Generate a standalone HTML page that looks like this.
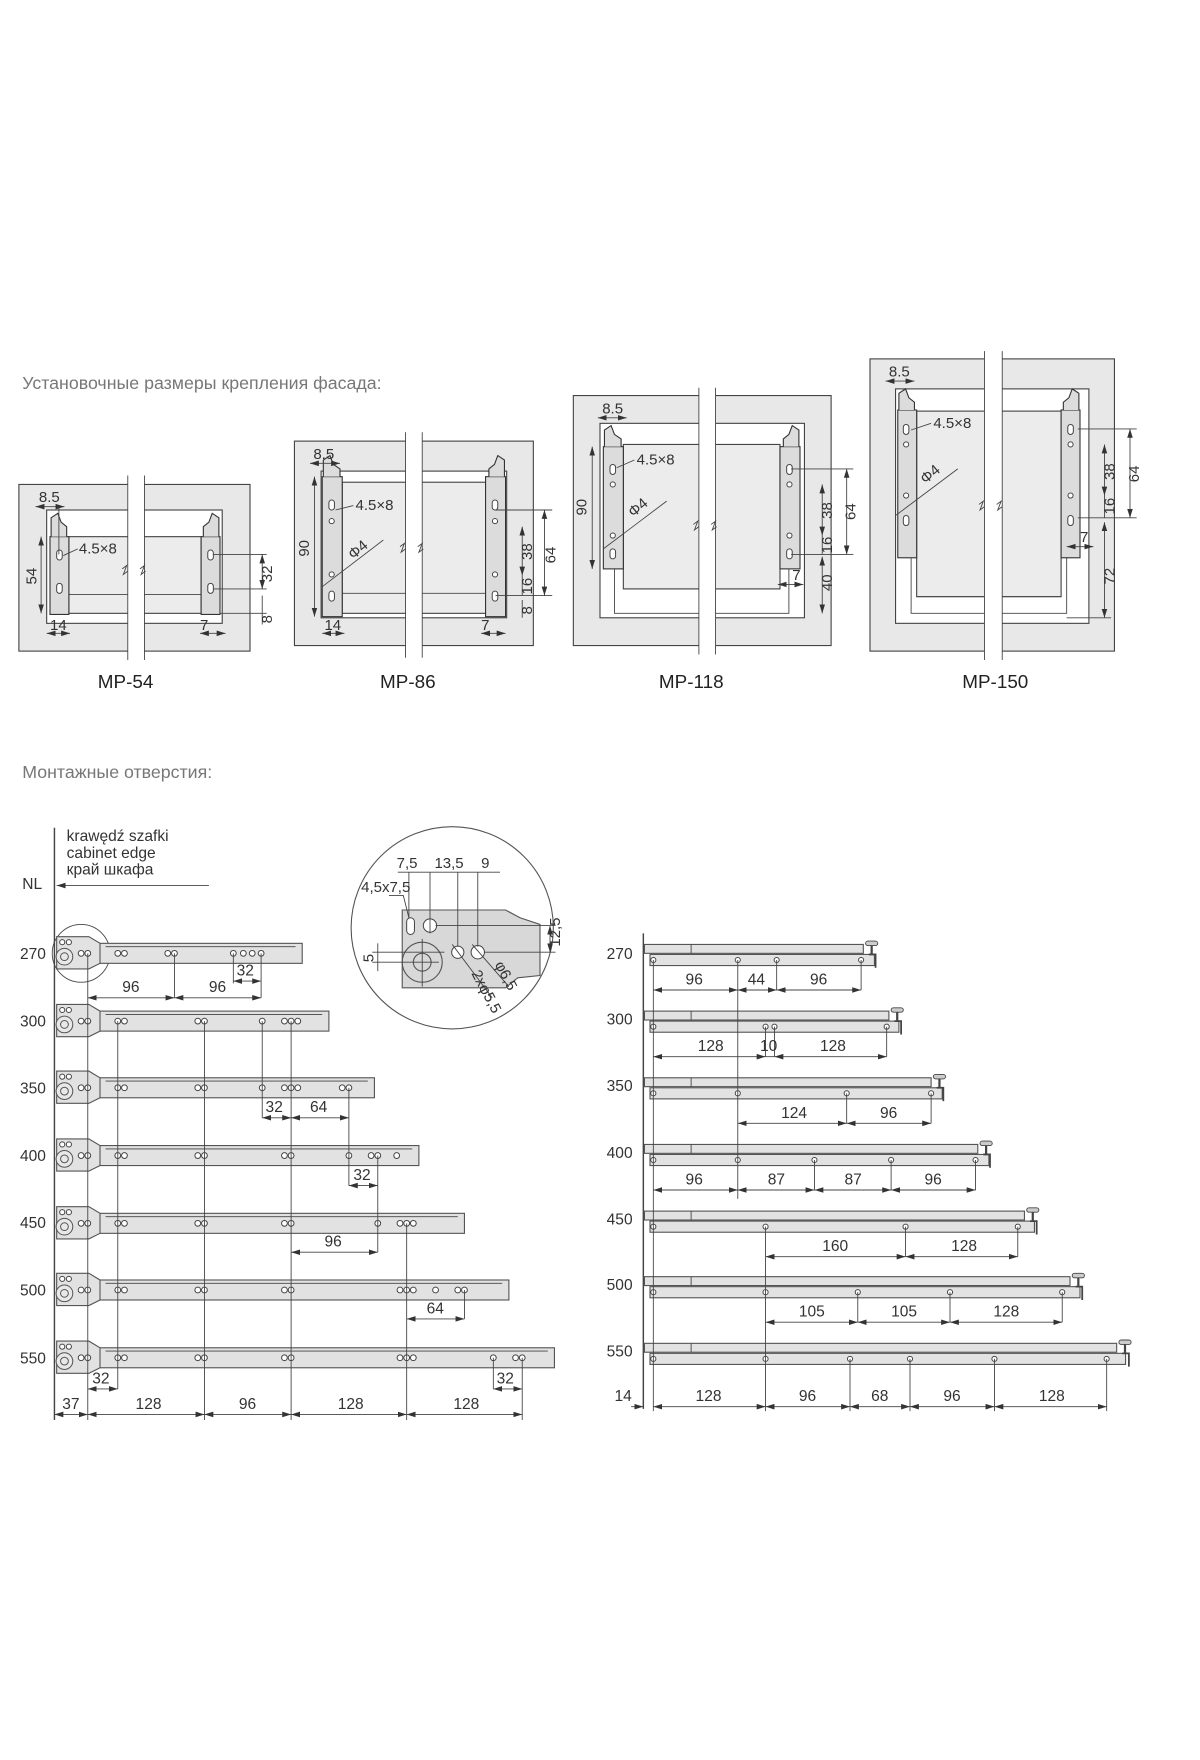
<!DOCTYPE html>
<html><head><meta charset="utf-8"><style>
html,body{margin:0;padding:0;background:#fff}
svg{display:block}
text{font-family:"Liberation Sans","DejaVu Sans",sans-serif;fill:#333}
.t{font-size:16px;fill:#777}
.d{font-size:13.5px}
.m{font-size:17px;fill:#222}
.r{font-size:14px}
.ln{stroke:#444;stroke-width:0.8;fill:none}
.dl{stroke:#444;stroke-width:0.8;fill:none;marker-start:url(#a1);marker-end:url(#a2)}
.bx{fill:#e8e8e8;stroke:#444;stroke-width:1}
.wh{fill:#fff;stroke:#444;stroke-width:1}
.pn{fill:#ececec;stroke:#444;stroke-width:1}
.br{fill:#dcdcdc;stroke:#333;stroke-width:1}
.h{fill:#fff;stroke:#444;stroke-width:0.9}
.rl{fill:#e2e2e2;stroke:#555;stroke-width:1}
</style></head><body>
<svg width="1200" height="1760" viewBox="0 0 1080 1584" preserveAspectRatio="none" xmlns="http://www.w3.org/2000/svg">
<defs>
<marker id="a1" markerWidth="8" markerHeight="6" refX="0" refY="3" orient="auto" markerUnits="userSpaceOnUse"><path d="M0,3 L8,0.5 L8,5.5 Z" fill="#333"/></marker>
<marker id="a2" markerWidth="8" markerHeight="6" refX="8" refY="3" orient="auto" markerUnits="userSpaceOnUse"><path d="M8,3 L0,0.5 L0,5.5 Z" fill="#333"/></marker>
<g id="lp">
<path d="M51,-15 L80,-15 L90,-9 L90,9 L80,14 L51,14 Z" fill="#e2e2e2" stroke="#555" stroke-width="1"/>
<circle cx="58" cy="3" r="7.5" fill="#e8e8e8" stroke="#555" stroke-width="0.9"/>
<circle cx="58" cy="3" r="3.5" fill="none" stroke="#555" stroke-width="0.9"/>
<circle cx="56" cy="-10" r="2.3" class="h"/><circle cx="62" cy="-10" r="2.3" class="h"/>
</g>
<g id="kn">
<rect x="0" y="-10" width="11" height="4" rx="2" fill="#ccc" stroke="#444" stroke-width="0.8"/>
<line x1="5.5" y1="-6" x2="5.5" y2="2" stroke="#444" stroke-width="2"/>
<path d="M3,2 L9,2 L9,14" stroke="#444" stroke-width="1.6" fill="none"/>
</g>
</defs>

<text x="20" y="350" class="t">Установочные размеры крепления фасада:</text>

<!-- MP-54 -->
<g transform="translate(0,4)">
<rect x="17" y="432" width="208" height="150" class="bx"/>
<rect x="42" y="455" width="158" height="102" class="wh"/>
<rect x="62" y="479" width="119" height="69" class="pn"/>
<line x1="62" y1="531" x2="181" y2="531" class="ln"/>
<rect x="45" y="479" width="17" height="70" class="br"/>
<path d="M46,479 L46,462 L52,458 L55,466 L60,470 L60,479" class="br"/>
<rect x="181" y="479" width="17" height="70" class="br"/>
<path d="M197,479 L197,462 L191,458 L188,466 L183,470 L183,479" class="br"/>
<rect x="51" y="491" width="5" height="9" rx="2.5" class="h"/><rect x="51" y="521" width="5" height="9" rx="2.5" class="h"/>
<rect x="187" y="491" width="5" height="9" rx="2.5" class="h"/><rect x="187" y="521" width="5" height="9" rx="2.5" class="h"/>
<rect x="115" y="424" width="15" height="166" fill="#fff"/>
<line x1="115" y1="424" x2="115" y2="590" class="ln"/><line x1="130" y1="424" x2="130" y2="590" class="ln"/>
<path d="M110,508 l4,-3 -3,8 4,-3 M126,508 l4,-3 -3,8 4,-3" class="ln"/>
<text x="35" y="448" class="d">8.5</text><line x1="32" y1="452" x2="58" y2="452" class="dl"/>
<line x1="53" y1="452" x2="53" y2="495" class="ln"/>
<text x="71" y="494" class="d">4.5×8</text><path d="M70,490 L57,496" class="ln"/>
<line x1="37" y1="479" x2="37" y2="548" class="dl"/><text transform="translate(33,522) rotate(-90)" class="d">54</text>
<line x1="42" y1="566" x2="63" y2="566" class="dl"/><text x="45" y="563" class="d">14</text>
<line x1="180" y1="566" x2="203" y2="566" class="dl"/><text x="180" y="563" class="d">7</text>
<line x1="192" y1="495" x2="240" y2="495" class="ln"/><line x1="192" y1="526" x2="240" y2="526" class="ln"/><line x1="198" y1="548" x2="240" y2="548" class="ln"/>
<line x1="236" y1="495" x2="236" y2="526" class="dl"/><text transform="translate(245,520) rotate(-90)" class="d">32</text>
<line x1="236" y1="532" x2="236" y2="558" class="ln"/><text transform="translate(245,557) rotate(-90)" class="d">8</text>
<text x="88" y="615" class="m">MP-54</text>
</g>

<!-- MP-86 -->
<g transform="translate(0,4)">
<rect x="265" y="393" width="215" height="184" class="bx"/>
<rect x="289" y="420" width="167" height="132" class="wh"/>
<rect x="308" y="430" width="129" height="118" class="pn"/>
<line x1="308" y1="530" x2="437" y2="530" class="ln"/>
<rect x="290" y="425" width="18" height="126" class="br"/>
<path d="M291,425 L291,410 L297,406 L300,414 L306,418 L306,425" class="br"/>
<rect x="437" y="425" width="18" height="126" class="br"/>
<path d="M454,425 L454,410 L448,406 L445,414 L440,418 L440,425" class="br"/>
<rect x="296" y="446" width="5" height="9" rx="2.5" class="h"/><circle cx="298.5" cy="465" r="2.3" class="h"/><circle cx="298.5" cy="513" r="2.3" class="h"/><rect x="296" y="528" width="5" height="9" rx="2.5" class="h"/>
<rect x="443" y="446" width="5" height="9" rx="2.5" class="h"/><circle cx="445.5" cy="465" r="2.3" class="h"/><circle cx="445.5" cy="513" r="2.3" class="h"/><rect x="443" y="528" width="5" height="9" rx="2.5" class="h"/>
<rect x="365" y="385" width="15" height="203" fill="#fff"/>
<line x1="365" y1="385" x2="365" y2="588" class="ln"/><line x1="380" y1="385" x2="380" y2="588" class="ln"/>
<path d="M360,488 l4,-3 -3,8 4,-3 M376,488 l4,-3 -3,8 4,-3" class="ln"/>
<text x="282" y="409" class="d">8.5</text><line x1="279" y1="413" x2="306" y2="413" class="dl"/>
<text x="320" y="455" class="d">4.5×8</text><path d="M318,451 L302,455" class="ln"/>
<line x1="283" y1="425" x2="283" y2="551" class="dl"/><text transform="translate(278,497) rotate(-90)" class="d">90</text>
<text transform="translate(318,500) rotate(-40)" class="d">Φ4</text><path d="M290,524 L345,482" class="ln"/>
<line x1="290" y1="566" x2="310" y2="566" class="dl"/><text x="292" y="563" class="d">14</text>
<line x1="433" y1="566" x2="455" y2="566" class="dl"/><text x="433" y="563" class="d">7</text>
<line x1="446" y1="455" x2="497" y2="455" class="ln"/><line x1="446" y1="532" x2="497" y2="532" class="ln"/>
<line x1="490" y1="455" x2="490" y2="532" class="dl"/><text transform="translate(500,503) rotate(-90)" class="d">64</text>
<line x1="470" y1="470" x2="470" y2="514" class="dl"/><text transform="translate(479,500) rotate(-90)" class="d">38</text>
<line x1="470" y1="514" x2="470" y2="532" class="ln"/><text transform="translate(479,531) rotate(-90)" class="d">16</text>
<line x1="470" y1="536" x2="470" y2="552" class="ln"/><text transform="translate(479,549) rotate(-90)" class="d">8</text>
<text x="342" y="615" class="m">MP-86</text>
</g>

<!-- MP-118 -->
<g transform="translate(0,4)">
<rect x="516" y="352" width="232" height="225" class="bx"/>
<rect x="540" y="377" width="184" height="175" class="wh"/>
<rect x="561" y="396" width="141" height="130" class="pn"/>
<path d="M553,505 L553,548 L710,548 L710,505" class="ln"/>
<line x1="561" y1="526" x2="702" y2="526" class="ln"/>
<rect x="543" y="398" width="18" height="110" class="br"/>
<path d="M544,398 L544,383 L550,379 L553,387 L559,391 L559,398" class="br"/>
<rect x="702" y="398" width="18" height="110" class="br"/>
<path d="M719,398 L719,383 L713,379 L710,387 L705,391 L705,398" class="br"/>
<rect x="549" y="414" width="5" height="9" rx="2.5" class="h"/><circle cx="551.5" cy="432" r="2.3" class="h"/><circle cx="551.5" cy="478" r="2.3" class="h"/><rect x="549" y="490" width="5" height="9" rx="2.5" class="h"/>
<rect x="708" y="414" width="5" height="9" rx="2.5" class="h"/><circle cx="710.5" cy="432" r="2.3" class="h"/><circle cx="710.5" cy="478" r="2.3" class="h"/><rect x="708" y="490" width="5" height="9" rx="2.5" class="h"/>
<rect x="629" y="345" width="15" height="240" fill="#fff"/>
<line x1="629" y1="345" x2="629" y2="585" class="ln"/><line x1="644" y1="345" x2="644" y2="585" class="ln"/>
<path d="M624,468 l4,-3 -3,8 4,-3 M640,468 l4,-3 -3,8 4,-3" class="ln"/>
<text x="542" y="368" class="d">8.5</text><line x1="538" y1="372" x2="564" y2="372" class="dl"/>
<text x="573" y="414" class="d">4.5×8</text><path d="M571,410 L555,417" class="ln"/>
<line x1="533" y1="398" x2="533" y2="508" class="dl"/><text transform="translate(528,460) rotate(-90)" class="d">90</text>
<text transform="translate(570,462) rotate(-40)" class="d">Φ4</text><path d="M543,490 L600,447" class="ln"/>
<line x1="700" y1="522" x2="723" y2="522" class="dl"/><text x="713" y="518" class="d">7</text>
<line x1="712" y1="418" x2="768" y2="418" class="ln"/><line x1="712" y1="495" x2="768" y2="495" class="ln"/>
<line x1="762" y1="418" x2="762" y2="495" class="dl"/><text transform="translate(770,464) rotate(-90)" class="d">64</text>
<line x1="740" y1="432" x2="740" y2="478" class="dl"/><text transform="translate(749,463) rotate(-90)" class="d">38</text>
<line x1="740" y1="478" x2="740" y2="495" class="ln"/><text transform="translate(749,494) rotate(-90)" class="d">16</text>
<line x1="740" y1="497" x2="740" y2="548" class="dl"/><text transform="translate(749,528) rotate(-90)" class="d">40</text>
<text x="593" y="615" class="m">MP-118</text>
</g>

<!-- MP-150 -->
<g transform="translate(0,4)">
<rect x="783" y="319" width="220" height="263" class="bx"/>
<rect x="806" y="346" width="174" height="211" class="wh"/>
<rect x="825" y="366" width="130" height="167" class="pn"/>
<path d="M820,470 L820,548 L960,548 L960,470" class="ln"/>
<line x1="825" y1="533" x2="955" y2="533" class="ln"/>
<rect x="808" y="365" width="17" height="133" class="br"/>
<path d="M809,365 L809,350 L815,346 L818,354 L823,358 L823,365" class="br"/>
<rect x="955" y="365" width="17" height="133" class="br"/>
<path d="M971,365 L971,350 L965,346 L962,354 L957,358 L957,365" class="br"/>
<rect x="813" y="378" width="5" height="9" rx="2.5" class="h"/><circle cx="815.5" cy="396" r="2.3" class="h"/><circle cx="815.5" cy="442" r="2.3" class="h"/><rect x="813" y="460" width="5" height="9" rx="2.5" class="h"/>
<rect x="961" y="378" width="5" height="9" rx="2.5" class="h"/><circle cx="963.5" cy="396" r="2.3" class="h"/><circle cx="963.5" cy="442" r="2.3" class="h"/><rect x="961" y="460" width="5" height="9" rx="2.5" class="h"/>
<rect x="886" y="312" width="16" height="278" fill="#fff"/>
<line x1="886" y1="312" x2="886" y2="590" class="ln"/><line x1="902" y1="312" x2="902" y2="590" class="ln"/>
<path d="M881,450 l4,-3 -3,8 4,-3 M897,450 l4,-3 -3,8 4,-3" class="ln"/>
<text x="800" y="335" class="d">8.5</text><line x1="797" y1="339" x2="823" y2="339" class="dl"/>
<text x="840" y="381" class="d">4.5×8</text><path d="M838,377 L820,383" class="ln"/>
<text transform="translate(833,432) rotate(-40)" class="d">Φ4</text><path d="M806,460 L862,418" class="ln"/>
<line x1="960" y1="488" x2="984" y2="488" class="dl"/><text x="972" y="484" class="d">7</text>
<line x1="970" y1="382" x2="1023" y2="382" class="ln"/><line x1="970" y1="462" x2="1023" y2="462" class="ln"/>
<line x1="1017" y1="382" x2="1017" y2="462" class="dl"/><text transform="translate(1025,430) rotate(-90)" class="d">64</text>
<line x1="994" y1="396" x2="994" y2="442" class="dl"/><text transform="translate(1003,428) rotate(-90)" class="d">38</text>
<line x1="994" y1="442" x2="994" y2="462" class="ln"/><text transform="translate(1003,459) rotate(-90)" class="d">16</text>
<line x1="994" y1="466" x2="994" y2="552" class="dl"/><text transform="translate(1003,522) rotate(-90)" class="d">72</text>
<line x1="960" y1="552" x2="1000" y2="552" class="ln"/>
<text x="866" y="615" class="m">MP-150</text>
</g>

<text x="20" y="700" class="t">Монтажные отверстия:</text>

<!-- LEFT RAILS -->
<line x1="49" y1="745" x2="49" y2="1278" stroke="#444" stroke-width="1.3"/>
<text x="60" y="757" class="r">krawędź szafki</text>
<text x="60" y="772" class="r">cabinet edge</text>
<text x="60" y="787" class="r">край шкафа</text>
<text x="20" y="800" class="r">NL</text>
<line x1="51" y1="797" x2="188" y2="797" class="ln" marker-start="url(#a1)"/>
<circle cx="73" cy="858" r="26" class="ln" stroke="#888"/>

<g class="r">
<text x="18" y="863">270</text><text x="18" y="924">300</text><text x="18" y="984">350</text><text x="18" y="1045">400</text><text x="18" y="1105">450</text><text x="18" y="1166">500</text><text x="18" y="1227">550</text>
</g>

<g id="rows">
<!-- 270 c=858 -->
<g transform="translate(0,858)"><rect x="88" y="-9" width="184" height="18" class="rl"/><line x1="95" y1="-6" x2="266" y2="-6" class="ln"/><use href="#lp"/>
<g><circle cx="73" cy="0" r="2.6" class="h"/><circle cx="79" cy="0" r="2.6" class="h"/><circle cx="106" cy="0" r="2.6" class="h"/><circle cx="112" cy="0" r="2.6" class="h"/><circle cx="151" cy="0" r="2.6" class="h"/><circle cx="157" cy="0" r="2.6" class="h"/><circle cx="210" cy="0" r="2.6" class="h"/><circle cx="219" cy="0" r="2.6" class="h"/><circle cx="227" cy="0" r="2.6" class="h"/><circle cx="235" cy="0" r="2.6" class="h"/></g></g>
<!-- 300 c=919 -->
<g transform="translate(0,919)"><rect x="88" y="-9" width="208" height="18" class="rl"/><line x1="95" y1="-6" x2="290" y2="-6" class="ln"/><use href="#lp"/>
<circle cx="73" cy="0" r="2.6" class="h"/><circle cx="79" cy="0" r="2.6" class="h"/><circle cx="106" cy="0" r="2.6" class="h"/><circle cx="112" cy="0" r="2.6" class="h"/><circle cx="178" cy="0" r="2.6" class="h"/><circle cx="184" cy="0" r="2.6" class="h"/><circle cx="236" cy="0" r="2.6" class="h"/><circle cx="256" cy="0" r="2.6" class="h"/><circle cx="262" cy="0" r="2.6" class="h"/><circle cx="268" cy="0" r="2.6" class="h"/></g>
<!-- 350 c=979 -->
<g transform="translate(0,979)"><rect x="88" y="-9" width="249" height="18" class="rl"/><line x1="95" y1="-6" x2="331" y2="-6" class="ln"/><use href="#lp"/>
<circle cx="73" cy="0" r="2.6" class="h"/><circle cx="79" cy="0" r="2.6" class="h"/><circle cx="106" cy="0" r="2.6" class="h"/><circle cx="112" cy="0" r="2.6" class="h"/><circle cx="178" cy="0" r="2.6" class="h"/><circle cx="184" cy="0" r="2.6" class="h"/><circle cx="236" cy="0" r="2.6" class="h"/><circle cx="256" cy="0" r="2.6" class="h"/><circle cx="262" cy="0" r="2.6" class="h"/><circle cx="268" cy="0" r="2.6" class="h"/><circle cx="308" cy="0" r="2.6" class="h"/><circle cx="314" cy="0" r="2.6" class="h"/></g>
<!-- 400 c=1040 -->
<g transform="translate(0,1040)"><rect x="88" y="-9" width="289" height="18" class="rl"/><line x1="95" y1="-6" x2="371" y2="-6" class="ln"/><use href="#lp"/>
<circle cx="73" cy="0" r="2.6" class="h"/><circle cx="79" cy="0" r="2.6" class="h"/><circle cx="106" cy="0" r="2.6" class="h"/><circle cx="112" cy="0" r="2.6" class="h"/><circle cx="178" cy="0" r="2.6" class="h"/><circle cx="184" cy="0" r="2.6" class="h"/><circle cx="256" cy="0" r="2.6" class="h"/><circle cx="262" cy="0" r="2.6" class="h"/><circle cx="314" cy="0" r="2.6" class="h"/><circle cx="334" cy="0" r="2.6" class="h"/><circle cx="340" cy="0" r="2.6" class="h"/><circle cx="357" cy="0" r="2.6" class="h"/></g>
<!-- 450 c=1101 -->
<g transform="translate(0,1101)"><rect x="88" y="-9" width="330" height="18" class="rl"/><line x1="95" y1="-6" x2="412" y2="-6" class="ln"/><use href="#lp"/>
<circle cx="73" cy="0" r="2.6" class="h"/><circle cx="79" cy="0" r="2.6" class="h"/><circle cx="106" cy="0" r="2.6" class="h"/><circle cx="112" cy="0" r="2.6" class="h"/><circle cx="178" cy="0" r="2.6" class="h"/><circle cx="184" cy="0" r="2.6" class="h"/><circle cx="256" cy="0" r="2.6" class="h"/><circle cx="262" cy="0" r="2.6" class="h"/><circle cx="340" cy="0" r="2.6" class="h"/><circle cx="360" cy="0" r="2.6" class="h"/><circle cx="366" cy="0" r="2.6" class="h"/><circle cx="372" cy="0" r="2.6" class="h"/></g>
<!-- 500 c=1161 -->
<g transform="translate(0,1161)"><rect x="88" y="-9" width="370" height="18" class="rl"/><line x1="95" y1="-6" x2="452" y2="-6" class="ln"/><use href="#lp"/>
<circle cx="73" cy="0" r="2.6" class="h"/><circle cx="79" cy="0" r="2.6" class="h"/><circle cx="106" cy="0" r="2.6" class="h"/><circle cx="112" cy="0" r="2.6" class="h"/><circle cx="178" cy="0" r="2.6" class="h"/><circle cx="184" cy="0" r="2.6" class="h"/><circle cx="256" cy="0" r="2.6" class="h"/><circle cx="262" cy="0" r="2.6" class="h"/><circle cx="360" cy="0" r="2.6" class="h"/><circle cx="366" cy="0" r="2.6" class="h"/><circle cx="372" cy="0" r="2.6" class="h"/><circle cx="392" cy="0" r="2.6" class="h"/><circle cx="412" cy="0" r="2.6" class="h"/><circle cx="418" cy="0" r="2.6" class="h"/></g>
<!-- 550 c=1222 -->
<g transform="translate(0,1222)"><rect x="88" y="-9" width="411" height="18" class="rl"/><line x1="95" y1="-6" x2="493" y2="-6" class="ln"/><use href="#lp"/>
<circle cx="73" cy="0" r="2.6" class="h"/><circle cx="79" cy="0" r="2.6" class="h"/><circle cx="106" cy="0" r="2.6" class="h"/><circle cx="112" cy="0" r="2.6" class="h"/><circle cx="178" cy="0" r="2.6" class="h"/><circle cx="184" cy="0" r="2.6" class="h"/><circle cx="256" cy="0" r="2.6" class="h"/><circle cx="262" cy="0" r="2.6" class="h"/><circle cx="360" cy="0" r="2.6" class="h"/><circle cx="366" cy="0" r="2.6" class="h"/><circle cx="372" cy="0" r="2.6" class="h"/><circle cx="444" cy="0" r="2.6" class="h"/><circle cx="464" cy="0" r="2.6" class="h"/><circle cx="470" cy="0" r="2.6" class="h"/></g>
</g>

<!-- left extension lines & dims -->
<g class="ln">
<line x1="79" y1="858" x2="79" y2="1278"/>
<line x1="157" y1="858" x2="157" y2="898"/><line x1="235" y1="858" x2="235" y2="898"/><line x1="210" y1="858" x2="210" y2="885"/>
<line x1="106" y1="919" x2="106" y2="1250"/>
<line x1="184" y1="919" x2="184" y2="1278"/>
<line x1="262" y1="919" x2="262" y2="1278"/>
<line x1="236" y1="919" x2="236" y2="1006"/>
<line x1="314" y1="979" x2="314" y2="1067"/>
<line x1="340" y1="1040" x2="340" y2="1127"/>
<line x1="366" y1="1101" x2="366" y2="1278"/>
<line x1="418" y1="1161" x2="418" y2="1187"/>
<line x1="444" y1="1222" x2="444" y2="1250"/><line x1="470" y1="1222" x2="470" y2="1278"/>
</g>
<line x1="210" y1="883" x2="235" y2="883" class="dl"/><text x="213" y="878" class="r">32</text>
<line x1="79" y1="898" x2="157" y2="898" class="dl"/><text x="110" y="893" class="r">96</text>
<line x1="157" y1="898" x2="235" y2="898" class="dl"/><text x="188" y="893" class="r">96</text>
<line x1="236" y1="1006" x2="262" y2="1006" class="dl"/><text x="239" y="1001" class="r">32</text>
<line x1="262" y1="1006" x2="314" y2="1006" class="dl"/><text x="279" y="1001" class="r">64</text>
<line x1="314" y1="1067" x2="340" y2="1067" class="dl"/><text x="318" y="1062" class="r">32</text>
<line x1="262" y1="1127" x2="340" y2="1127" class="dl"/><text x="292" y="1122" class="r">96</text>
<line x1="366" y1="1187" x2="418" y2="1187" class="dl"/><text x="384" y="1182" class="r">64</text>
<line x1="79" y1="1250" x2="106" y2="1250" class="dl"/><text x="83" y="1245" class="r">32</text>
<line x1="444" y1="1250" x2="470" y2="1250" class="dl"/><text x="447" y="1245" class="r">32</text>
<line x1="49" y1="1273" x2="79" y2="1273" class="dl"/><text x="56" y="1268" class="r">37</text>
<line x1="79" y1="1273" x2="184" y2="1273" class="dl"/><text x="122" y="1268" class="r">128</text>
<line x1="184" y1="1273" x2="262" y2="1273" class="dl"/><text x="215" y="1268" class="r">96</text>
<line x1="262" y1="1273" x2="366" y2="1273" class="dl"/><text x="304" y="1268" class="r">128</text>
<line x1="366" y1="1273" x2="470" y2="1273" class="dl"/><text x="408" y="1268" class="r">128</text>

<!-- detail circle -->
<circle cx="407" cy="835" r="91" fill="#fff" stroke="#555" stroke-width="1"/>
<path d="M362,819 L455,819 L468,826 L486,832 L486,878 L466,880 L455,889 L362,889 Z" fill="#d8d8d8" stroke="#555" stroke-width="1"/>
<circle cx="380" cy="866" r="18" fill="none" stroke="#555"/><circle cx="380" cy="866" r="8" fill="none" stroke="#555"/>
<rect x="366" y="826" width="7" height="15" rx="3.5" class="h"/><circle cx="387" cy="833" r="6" class="h"/>
<circle cx="412" cy="857" r="5.5" class="h"/><circle cx="430" cy="857" r="6" class="h"/>
<g class="ln">
<line x1="368" y1="785" x2="368" y2="826"/><line x1="387" y1="785" x2="387" y2="840"/><line x1="412" y1="785" x2="412" y2="852"/><line x1="430" y1="785" x2="430" y2="852"/>
<line x1="358" y1="785" x2="450" y2="785"/>
<line x1="392" y1="833" x2="500" y2="833"/><line x1="436" y1="857" x2="500" y2="857"/>
<line x1="335" y1="857" x2="400" y2="857"/><line x1="335" y1="866" x2="395" y2="866"/>
<line x1="380" y1="845" x2="380" y2="888"/>
<line x1="407" y1="850" x2="443" y2="898"/><line x1="425" y1="850" x2="458" y2="888"/>
<path d="M350,806 L363,806 L368,826"/>
</g>
<line x1="495" y1="833" x2="495" y2="857" class="dl"/>
<line x1="340" y1="849" x2="340" y2="874" class="ln"/>
<text x="357" y="781" class="d">7,5</text><text x="391" y="781" class="d">13,5</text><text x="433" y="781" class="d">9</text>
<text x="325" y="803" class="d">4,5x7,5</text>
<text transform="translate(504,852) rotate(-90)" class="d">12,5</text>
<text transform="translate(336,866) rotate(-90)" class="d">5</text>
<text transform="translate(424,876) rotate(62)" class="d" font-size="12">2xφ5,5</text>
<text transform="translate(445,868) rotate(62)" class="d" font-size="12">φ6,5</text>

<!-- RIGHT RAILS -->
<line x1="579" y1="840" x2="579" y2="1268" stroke="#444" stroke-width="1.3"/>
<g class="r">
<text x="546" y="863">270</text><text x="546" y="922">300</text><text x="546" y="982">350</text><text x="546" y="1042">400</text><text x="546" y="1102">450</text><text x="546" y="1161">500</text><text x="546" y="1221">550</text>
</g>
<!-- rows c: 857,917,977,1037,1097,1156,1216 -->
<g transform="translate(0,857)"><rect x="580" y="-7" width="197" height="8" class="rl"/><rect x="585" y="2" width="202" height="10" class="rl"/><line x1="622" y1="-7" x2="622" y2="1" class="ln"/><use href="#kn" x="779"/>
<circle cx="588" cy="7" r="2.3" class="h"/><circle cx="664" cy="7" r="2.3" class="h"/><circle cx="699" cy="7" r="2.3" class="h"/><circle cx="775" cy="7" r="2.3" class="h"/></g>
<g transform="translate(0,917)"><rect x="580" y="-7" width="220" height="8" class="rl"/><rect x="585" y="2" width="224" height="10" class="rl"/><line x1="622" y1="-7" x2="622" y2="1" class="ln"/><use href="#kn" x="802"/>
<circle cx="588" cy="7" r="2.3" class="h"/><circle cx="689" cy="7" r="2.3" class="h"/><circle cx="697" cy="7" r="2.3" class="h"/><circle cx="798" cy="7" r="2.3" class="h"/></g>
<g transform="translate(0,977)"><rect x="580" y="-7" width="258" height="8" class="rl"/><rect x="585" y="2" width="263" height="10" class="rl"/><line x1="622" y1="-7" x2="622" y2="1" class="ln"/><use href="#kn" x="840"/>
<circle cx="588" cy="7" r="2.3" class="h"/><circle cx="664" cy="7" r="2.3" class="h"/><circle cx="762" cy="7" r="2.3" class="h"/><circle cx="838" cy="7" r="2.3" class="h"/></g>
<g transform="translate(0,1037)"><rect x="580" y="-7" width="300" height="8" class="rl"/><rect x="585" y="2" width="305" height="10" class="rl"/><line x1="622" y1="-7" x2="622" y2="1" class="ln"/><use href="#kn" x="882"/>
<circle cx="588" cy="7" r="2.3" class="h"/><circle cx="664" cy="7" r="2.3" class="h"/><circle cx="733" cy="7" r="2.3" class="h"/><circle cx="802" cy="7" r="2.3" class="h"/><circle cx="878" cy="7" r="2.3" class="h"/></g>
<g transform="translate(0,1097)"><rect x="580" y="-7" width="342" height="8" class="rl"/><rect x="585" y="2" width="346" height="10" class="rl"/><line x1="622" y1="-7" x2="622" y2="1" class="ln"/><use href="#kn" x="924"/>
<circle cx="588" cy="7" r="2.3" class="h"/><circle cx="689" cy="7" r="2.3" class="h"/><circle cx="815" cy="7" r="2.3" class="h"/><circle cx="916" cy="7" r="2.3" class="h"/></g>
<g transform="translate(0,1156)"><rect x="580" y="-7" width="383" height="8" class="rl"/><rect x="585" y="2" width="387" height="10" class="rl"/><line x1="622" y1="-7" x2="622" y2="1" class="ln"/><use href="#kn" x="965"/>
<circle cx="588" cy="7" r="2.3" class="h"/><circle cx="689" cy="7" r="2.3" class="h"/><circle cx="772" cy="7" r="2.3" class="h"/><circle cx="855" cy="7" r="2.3" class="h"/><circle cx="956" cy="7" r="2.3" class="h"/></g>
<g transform="translate(0,1216)"><rect x="580" y="-7" width="425" height="8" class="rl"/><rect x="585" y="2" width="428" height="10" class="rl"/><line x1="622" y1="-7" x2="622" y2="1" class="ln"/><use href="#kn" x="1007"/>
<circle cx="588" cy="7" r="2.3" class="h"/><circle cx="689" cy="7" r="2.3" class="h"/><circle cx="765" cy="7" r="2.3" class="h"/><circle cx="819" cy="7" r="2.3" class="h"/><circle cx="895" cy="7" r="2.3" class="h"/><circle cx="996" cy="7" r="2.3" class="h"/></g>

<g class="ln">
<line x1="588" y1="864" x2="588" y2="1270"/>
<line x1="664" y1="864" x2="664" y2="1079"/>
<line x1="689" y1="1104" x2="689" y2="1270"/>
<line x1="699" y1="864" x2="699" y2="891"/><line x1="775" y1="864" x2="775" y2="891"/>
<line x1="689" y1="924" x2="689" y2="951"/><line x1="697" y1="924" x2="697" y2="951"/><line x1="798" y1="924" x2="798" y2="951"/>
<line x1="762" y1="984" x2="762" y2="1011"/><line x1="838" y1="984" x2="838" y2="1011"/>
<line x1="733" y1="1044" x2="733" y2="1071"/><line x1="802" y1="1044" x2="802" y2="1071"/><line x1="878" y1="1044" x2="878" y2="1071"/>
<line x1="815" y1="1104" x2="815" y2="1131"/><line x1="916" y1="1104" x2="916" y2="1131"/>
<line x1="772" y1="1163" x2="772" y2="1190"/><line x1="855" y1="1163" x2="855" y2="1190"/><line x1="956" y1="1163" x2="956" y2="1190"/>
<line x1="765" y1="1223" x2="765" y2="1270"/><line x1="819" y1="1223" x2="819" y2="1270"/><line x1="895" y1="1223" x2="895" y2="1270"/><line x1="996" y1="1223" x2="996" y2="1270"/>
</g>
<line x1="588" y1="891" x2="664" y2="891" class="dl"/><text x="617" y="886" class="r">96</text>
<line x1="664" y1="891" x2="699" y2="891" class="dl"/><text x="673" y="886" class="r">44</text>
<line x1="699" y1="891" x2="775" y2="891" class="dl"/><text x="729" y="886" class="r">96</text>
<line x1="588" y1="951" x2="689" y2="951" class="dl"/><text x="628" y="946" class="r">128</text>
<line x1="689" y1="951" x2="697" y2="951" class="ln"/><text x="684" y="946" class="r">10</text>
<line x1="697" y1="951" x2="798" y2="951" class="dl"/><text x="738" y="946" class="r">128</text>
<line x1="664" y1="1011" x2="762" y2="1011" class="dl"/><text x="703" y="1006" class="r">124</text>
<line x1="762" y1="1011" x2="838" y2="1011" class="dl"/><text x="792" y="1006" class="r">96</text>
<line x1="588" y1="1071" x2="664" y2="1071" class="dl"/><text x="617" y="1066" class="r">96</text>
<line x1="664" y1="1071" x2="733" y2="1071" class="dl"/><text x="691" y="1066" class="r">87</text>
<line x1="733" y1="1071" x2="802" y2="1071" class="dl"/><text x="760" y="1066" class="r">87</text>
<line x1="802" y1="1071" x2="878" y2="1071" class="dl"/><text x="832" y="1066" class="r">96</text>
<line x1="689" y1="1131" x2="815" y2="1131" class="dl"/><text x="740" y="1126" class="r">160</text>
<line x1="815" y1="1131" x2="916" y2="1131" class="dl"/><text x="856" y="1126" class="r">128</text>
<line x1="689" y1="1190" x2="772" y2="1190" class="dl"/><text x="719" y="1185" class="r">105</text>
<line x1="772" y1="1190" x2="855" y2="1190" class="dl"/><text x="802" y="1185" class="r">105</text>
<line x1="855" y1="1190" x2="956" y2="1190" class="dl"/><text x="894" y="1185" class="r">128</text>
<line x1="568" y1="1266" x2="579" y2="1266" class="ln" marker-end="url(#a2)"/><text x="553" y="1261" class="r">14</text>
<line x1="588" y1="1266" x2="689" y2="1266" class="dl"/><text x="626" y="1261" class="r">128</text>
<line x1="689" y1="1266" x2="765" y2="1266" class="dl"/><text x="719" y="1261" class="r">96</text>
<line x1="765" y1="1266" x2="819" y2="1266" class="dl"/><text x="784" y="1261" class="r">68</text>
<line x1="819" y1="1266" x2="895" y2="1266" class="dl"/><text x="849" y="1261" class="r">96</text>
<line x1="895" y1="1266" x2="996" y2="1266" class="dl"/><text x="935" y="1261" class="r">128</text>
</svg>
</body></html>
